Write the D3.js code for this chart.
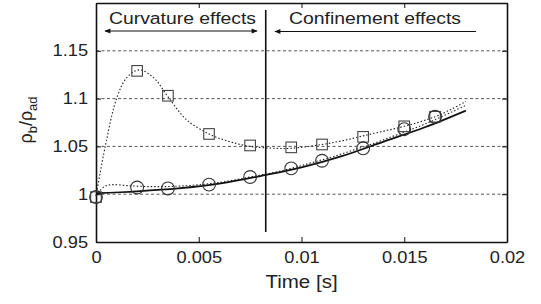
<!DOCTYPE html>
<html>
<head>
<meta charset="utf-8">
<script src="https://cdn.jsdelivr.net/npm/d3@7"></script>
<style>
  body { margin: 0; background: #fff; }
  text { font-family: "Liberation Sans", Arial, sans-serif; fill: #222; }
</style>
</head>
<body>
<div id="chart"></div>
<script>
// data
const xTicks = [0, 0.005, 0.01, 0.015, 0.02];
const yTicks = [0.95, 1, 1.05, 1.1, 1.15];
const gridValues = [1, 1.05, 1.1, 1.15];

const squareT = [0, 0.002, 0.0035, 0.0055, 0.0075, 0.0095, 0.011, 0.013, 0.015, 0.0165];
const squareV = [0.997, 1.129, 1.103, 1.063, 1.051, 1.049, 1.052, 1.060, 1.071, 1.081];

const circleT = [0, 0.002, 0.0035, 0.0055, 0.0075, 0.0095, 0.011, 0.013, 0.015, 0.0165];
const circleV = [0.997, 1.007, 1.006, 1.010, 1.018, 1.027, 1.035, 1.048, 1.068, 1.081];

const squareFitT = [0, 0.00045, 0.001, 0.0015, 0.0021, 0.0028, 0.0035, 0.0044, 0.0055, 0.0065, 0.0075, 0.0088, 0.0095, 0.011, 0.012, 0.013, 0.014, 0.015, 0.0165, 0.0173, 0.018];
const squareFitV = [0.998, 1.05, 1.10, 1.122, 1.13, 1.122, 1.102, 1.078, 1.063, 1.055, 1.050, 1.048, 1.048, 1.052, 1.056, 1.061, 1.066, 1.071, 1.081, 1.089, 1.097];

const circleFitT = [0, 0.0004, 0.0008, 0.0015, 0.0025, 0.0035, 0.0045, 0.0055, 0.0065, 0.0075, 0.0085, 0.0095, 0.0105, 0.0115, 0.0125, 0.0135, 0.0145, 0.0155, 0.0165, 0.018];
const circleFitV = [0.998, 1.008, 1.010, 1.009, 1.008, 1.008, 1.009, 1.011, 1.014, 1.018, 1.022, 1.027, 1.033, 1.039, 1.046, 1.053, 1.061, 1.069, 1.078, 1.093];

const modelT = [0, 0.002, 0.004, 0.006, 0.008, 0.010, 0.012, 0.014, 0.016, 0.018];
const modelV = [1.001, 1.003, 1.006, 1.011, 1.019, 1.028, 1.040, 1.055, 1.070, 1.0875];

const splitT = 0.00826;

const width = 541, height = 304;
const margin = { left: 96, right: 34, top: 3, bottom: 62 };
const stretch = 1.14; // the figure's lettering is a bit wide

const svg = d3.select("#chart").append("svg")
  .attr("width", width).attr("height", height);

const x = d3.scaleLinear().domain([0, 0.02]).range([margin.left, width - margin.right]);
const y = d3.scaleLinear().domain([0.95, 1.2]).range([height - margin.bottom, margin.top]);

// grid
svg.append("g").selectAll("line").data(gridValues).enter().append("line")
  .attr("x1", x(0)).attr("x2", x(0.02))
  .attr("y1", d => y(d)).attr("y2", d => y(d))
  .attr("stroke", "#444").attr("stroke-width", 0.9)
  .attr("stroke-dasharray", "3,2.5");

// axes
const fmt = d => d === 0 ? "0" : String(+d.toFixed(3));
const axBottom = svg.append("g").attr("transform", "translate(0," + y(0.95) + ")")
  .call(d3.axisBottom(x).tickValues(xTicks).tickFormat(fmt).tickSizeInner(-5).tickSizeOuter(0).tickPadding(10));
const axTop = svg.append("g").attr("transform", "translate(0," + y(1.2) + ")")
  .call(d3.axisTop(x).tickValues(xTicks).tickFormat("").tickSizeInner(-5).tickSizeOuter(0));
const axLeft = svg.append("g").attr("transform", "translate(" + x(0) + ",0)")
  .call(d3.axisLeft(y).tickValues(yTicks).tickFormat(fmt).tickSizeInner(-5).tickSizeOuter(0).tickPadding(7));
const axRight = svg.append("g").attr("transform", "translate(" + x(0.02) + ",0)")
  .call(d3.axisRight(y).tickValues(yTicks).tickFormat("").tickSizeInner(-5).tickSizeOuter(0));

[axBottom, axTop, axLeft, axRight].forEach(g => {
  g.select(".domain").attr("stroke", "#111").attr("stroke-width", 1.6);
  g.selectAll(".tick line").attr("stroke", "#111").attr("stroke-width", 1);
  g.selectAll("text").style("font-size", "16px").style("font-family", "Liberation Sans, Arial, sans-serif")
    .attr("fill", "#222").attr("transform", "scale(" + stretch + ",1)");
});

// fit lines
const line = d3.line().x(d => x(d[0])).y(d => y(d[1])).curve(d3.curveCatmullRom.alpha(0.5));

svg.append("path").datum(d3.zip(squareFitT, squareFitV))
  .attr("d", line).attr("fill", "none")
  .attr("stroke", "#222").attr("stroke-width", 1.1).attr("stroke-dasharray", "1.5,2");

svg.append("path").datum(d3.zip(circleFitT, circleFitV))
  .attr("d", line).attr("fill", "none")
  .attr("stroke", "#222").attr("stroke-width", 1.1).attr("stroke-dasharray", "1.5,2");

svg.append("path").datum(d3.zip(modelT, modelV))
  .attr("d", line).attr("fill", "none")
  .attr("stroke", "#111").attr("stroke-width", 1.8);

// markers
svg.append("g").selectAll("rect").data(d3.zip(squareT, squareV)).enter().append("rect")
  .attr("x", d => x(d[0]) - 5.3).attr("y", d => y(d[1]) - 5.3)
  .attr("width", 10.6).attr("height", 10.6)
  .attr("fill", "none").attr("stroke", "#444").attr("stroke-width", 1.1);

svg.append("g").selectAll("circle").data(d3.zip(circleT, circleV)).enter().append("circle")
  .attr("cx", d => x(d[0])).attr("cy", d => y(d[1])).attr("r", 6.4)
  .attr("fill", "none").attr("stroke", "#333").attr("stroke-width", 1.1);

// split line
svg.append("line")
  .attr("x1", x(splitT)).attr("x2", x(splitT))
  .attr("y1", 10).attr("y2", 232)
  .attr("stroke", "#111").attr("stroke-width", 1.6);

// arrows
const defs = svg.append("defs");
defs.append("marker").attr("id", "ah").attr("viewBox", "0 0 10 10")
  .attr("refX", 9).attr("refY", 5).attr("markerWidth", 6).attr("markerHeight", 5)
  .attr("orient", "auto-start-reverse")
  .append("path").attr("d", "M0,1 L10,5 L0,9 Z").attr("fill", "#111");

svg.append("line")
  .attr("x1", 105).attr("x2", 257).attr("y1", 31).attr("y2", 31)
  .attr("stroke", "#111").attr("stroke-width", 1.2)
  .attr("marker-start", "url(#ah)").attr("marker-end", "url(#ah)");

svg.append("line")
  .attr("x1", 275).attr("x2", 476).attr("y1", 31.5).attr("y2", 31.5)
  .attr("stroke", "#111").attr("stroke-width", 1.2)
  .attr("marker-start", "url(#ah)");

function label(tx, ty, size, s) {
  return svg.append("text")
    .attr("transform", "translate(" + tx + "," + ty + ") scale(" + stretch + ",1)")
    .attr("text-anchor", "middle").style("font-size", size + "px")
    .text(s);
}

label(182.5, 24, 17, "Curvature effects");
label(375, 24, 17, "Confinement effects");

// axis titles
label(x(0.01), 288, 18, "Time [s]");

const yl = svg.append("text")
  .attr("transform", "translate(32,120) rotate(-90)")
  .attr("text-anchor", "middle").style("font-size", "18px");
yl.append("tspan").text("ρ");
yl.append("tspan").attr("dy", 5).style("font-size", "13px").text("b");
yl.append("tspan").attr("dy", -5).text("/ρ");
yl.append("tspan").attr("dy", 5).style("font-size", "13px").text("ad");
</script>
</body>
</html>
